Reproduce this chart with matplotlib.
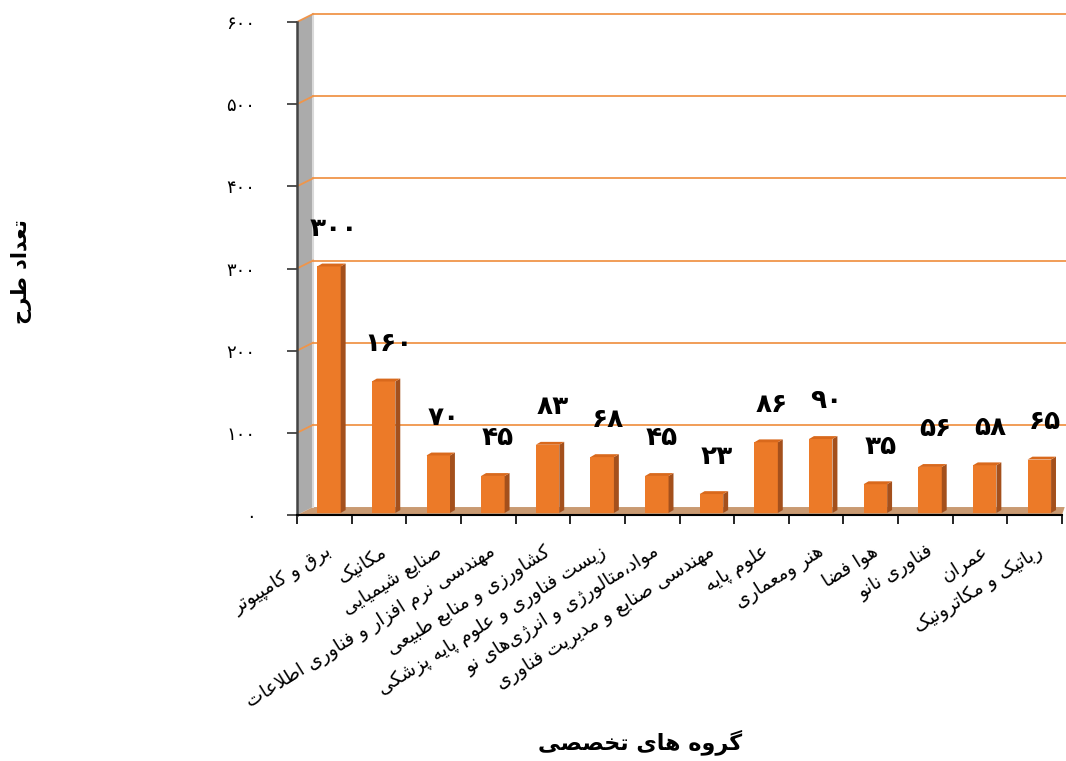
import numpy as np
import matplotlib
matplotlib.use("Agg")
from matplotlib import pyplot as plt
from matplotlib.patches import Polygon

plt.rcParams['font.family'] = ['DejaVu Sans']

# Data ===================================================================================
groups = [
    'برق و کامپیوتر',
    'مکانیک',
    'صنایع شیمیایی',
    'مهندسی نرم افزار و فناوری اطلاعات',
    'کشاورزی و منابع طبیعی',
    'زیست فناوری و علوم پایه پزشکی',
    'مواد،متالورژی و انرژی\u200cهای نو',
    'مهندسی صنایع و مدیریت فناوری',
    'علوم پایه',
    'هنر ومعماری',
    'هوا فضا',
    'فناوری نانو',
    'عمران',
    'رباتیک و مکاترونیک',
]
counts = [300, 160, 70, 45, 83, 68, 45, 23, 86, 90, 35, 56, 58, 65]
y_ticks = [0, 100, 200, 300, 400, 500, 600]
y_title = 'تعداد طرح'
x_title = 'گروه های تخصصی'


# Minimal Arabic/Persian shaping (no bidi lib available) ==================================
# letter -> (isolated presentation form, number of forms: 2 = right-joining, 4 = dual)
FORMS = {
    'ا': (0xFE8D, 2), 'آ': (0xFE81, 2), 'ب': (0xFE8F, 4), 'پ': (0xFB56, 4),
    'ت': (0xFE95, 4), 'ث': (0xFE99, 4), 'ج': (0xFE9D, 4), 'چ': (0xFB7A, 4),
    'ح': (0xFEA1, 4), 'خ': (0xFEA5, 4), 'د': (0xFEA9, 2), 'ذ': (0xFEAB, 2),
    'ر': (0xFEAD, 2), 'ز': (0xFEAF, 2), 'ژ': (0xFB8A, 2), 'س': (0xFEB1, 4),
    'ش': (0xFEB5, 4), 'ص': (0xFEB9, 4), 'ض': (0xFEBD, 4), 'ط': (0xFEC1, 4),
    'ظ': (0xFEC5, 4), 'ع': (0xFEC9, 4), 'غ': (0xFECD, 4), 'ف': (0xFED1, 4),
    'ق': (0xFED5, 4), 'ک': (0xFB8E, 4), 'گ': (0xFB92, 4), 'ل': (0xFEDD, 4),
    'م': (0xFEE1, 4), 'ن': (0xFEE5, 4), 'ه': (0xFEE9, 4), 'و': (0xFEED, 2),
    'ی': (0xFBFC, 4), 'ي': (0xFEF1, 4),
}


def dual(c):
    return c in FORMS and FORMS[c][1] == 4


def shape(s):
    out = []
    i, n = 0, len(s)
    while i < n:
        c = s[i]
        if c not in FORMS:
            if c != '\u200c':
                out.append(c)
            i += 1
            continue
        link_prev = i > 0 and dual(s[i - 1])
        if c == 'ل' and i + 1 < n and s[i + 1] == 'ا':
            out.append('\uFEFC' if link_prev else '\uFEFB')
            i += 2
            continue
        link_next = dual(c) and i + 1 < n and s[i + 1] in FORMS
        base = FORMS[c][0]
        if link_prev and link_next:
            base += 3
        elif link_prev:
            base += 1
        elif link_next:
            base += 2
        out.append(chr(base))
        i += 1
    return ''.join(reversed(out))


def fa_num(v):
    return str(v).translate(str.maketrans('0123456789', '۰۱۲۳۴۵۶۷۸۹'))


# Figure =================================================================================
fig = plt.figure(figsize=(10.66, 7.61), dpi=100)
ax = fig.add_axes([297 / 1066, 1 - 515 / 761, 765 / 1066, 493 / 761])
n = len(counts)
ax.set_xlim(0, n)
ax.set_ylim(0, 600)

# depth of the walls and of the bars, in data units
ox, oy = 0.293, 9.7
bx, by = 0.09, 3.5
base = 2.5

# left side wall and floor
ax.add_patch(Polygon([(0, 0), (ox, oy), (ox, 600 + oy), (0, 600)], closed=True,
                     fc='#ababab', ec='none', clip_on=False, zorder=1))
ax.plot([ox, ox], [oy, 600 + oy], color='#d9d9d9', lw=1.5, clip_on=False, zorder=1.1)
ax.add_patch(Polygon([(0, 0), (ox, oy), (n + 0.05, oy), (n, 0)], closed=True,
                     fc='#c99a72', ec='none', clip_on=False, zorder=1))

# gridlines on the back wall + their slant across the side wall
for v in y_ticks[1:]:
    ax.plot([ox, n + ox], [v + oy, v + oy], color='#f0954a', lw=1.3, clip_on=False, zorder=1.2)
    ax.plot([0, ox], [v, v + oy], color='#f0954a', lw=1.3, clip_on=False, zorder=1.2)

# bars: front face through ax.bar, side/top faces as polygons
x_left = np.arange(n) + 0.37
w = 0.43
ax.bar(x_left, counts, width=w, bottom=base, align='edge', color='#ec7a28',
       edgecolor='none', zorder=3)
for x0, v in zip(x_left, counts):
    top = base + v
    ax.add_patch(Polygon([(x0 + w, base), (x0 + w + bx, base + by),
                          (x0 + w + bx, top + by), (x0 + w, top)],
                         closed=True, fc='#a4501c', ec='none', zorder=3))
    ax.add_patch(Polygon([(x0, top), (x0 + bx, top + by),
                          (x0 + w + bx, top + by), (x0 + w, top)],
                         closed=True, fc='#d9691c', ec='none', zorder=3))
    ax.annotate(fa_num(v), (x0 + 0.31, top), xytext=(0, 27), textcoords='offset points',
                ha='center', va='center', fontsize=19, fontweight='bold', zorder=4)

# axes
for side in ['top', 'right']:
    ax.spines[side].set_visible(False)
ax.spines['left'].set_color('#444444')
ax.spines['left'].set_linewidth(1.8)
ax.spines['bottom'].set_color('black')
ax.spines['bottom'].set_linewidth(1.5)
ax.spines['left'].set_zorder(5)
ax.spines['bottom'].set_zorder(5)

ax.set_yticks(y_ticks)
ax.set_yticklabels([fa_num(v) for v in y_ticks], fontsize=13)
ax.tick_params(axis='y', direction='out', length=7, width=1.2, pad=23, color='#333333')
ax.set_xticks(np.arange(n + 1))
ax.set_xticklabels([])
ax.tick_params(axis='x', direction='out', length=6.5, width=1.2, color='black')

for i, g in enumerate(groups):
    ax.text(i + 0.52, -0.055, shape(g), transform=ax.get_xaxis_transform(),
            rotation=32, rotation_mode='anchor', ha='right', va='top', fontsize=13.5)

fig.text(22 / 1066, 1 - 272 / 761, shape(y_title), rotation=90, fontsize=15,
         fontweight='bold', ha='center', va='center')
fig.text(640 / 1066, 1 - 742 / 761, shape(x_title), fontsize=16,
         fontweight='bold', ha='center', va='center')

fig.savefig('out.png', dpi=100)
